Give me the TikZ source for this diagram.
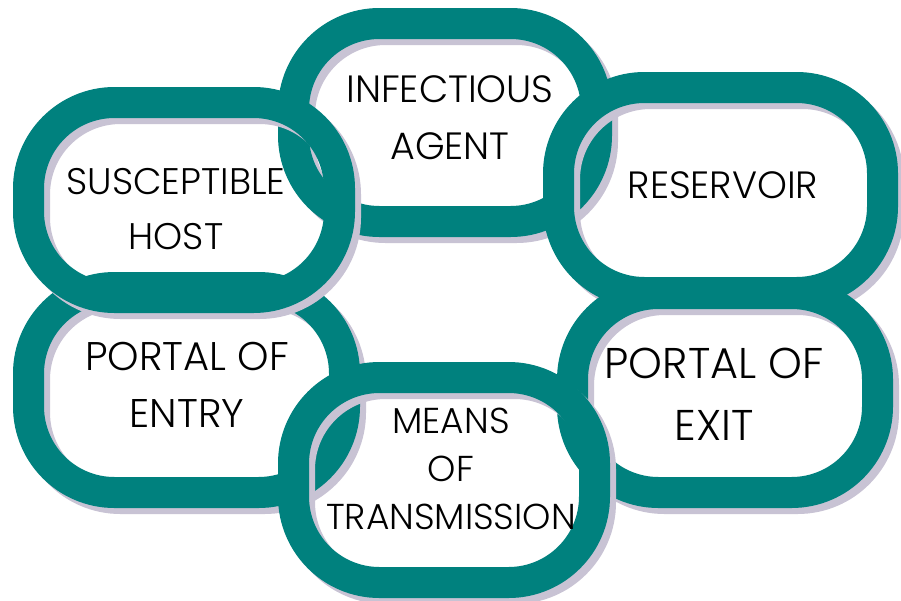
\documentclass[tikz,border=0pt]{standalone}
\usepackage{fontspec}
\setmainfont{Poppins Light}
\definecolor{ringteal}{RGB}{0,129,126}
\definecolor{ringshadow}{RGB}{200,195,212}
\tikzset{
  linkpath/.style={draw=ringteal, line width=31pt, rounded corners=86pt},
  linkshadow/.style={draw=ringshadow, line width=31pt, rounded corners=86pt},
  lab/.style={align=center, inner sep=0pt, text=black},
}
\newcommand{\chainlink}[4]{%
  \draw[linkshadow, shift={(6,6)}] (#1,#2) rectangle (#3,#4);
  \draw[linkpath] (#1,#2) rectangle (#3,#4);
}
\begin{document}
\begin{tikzpicture}[x=1pt,y=-1pt]
\useasboundingbox (0,0) rectangle (901,600);
\fill[white] (0,0) rectangle (901,600);
% links, drawn bottom to top
\chainlink{293.5}{23.5}{596.5}{221.5}   % infectious agent
\chainlink{558.5}{87.5}{882.5}{292.5}   % reservoir
\chainlink{28.5}{287.5}{344.5}{492.5}   % portal of entry
\chainlink{572.5}{293.5}{877.5}{492.5}  % portal of exit
\chainlink{28.5}{102.5}{339.5}{297.5}   % susceptible host
\chainlink{293.5}{377.5}{594.5}{582.5}  % means of transmission
% labels
\node[lab, font=\fontsize{38}{57}\selectfont] (agent) at (450,118) {INFECTIOUS\\AGENT};
\node[lab, font=\fontsize{38}{50}\selectfont] (reservoir) at (723,185.5) {RESERVOIR};
\node[lab, font=\fontsize{37}{55}\selectfont] (host) at (176,209) {SUSCEPTIBLE\\HOST};
\node[lab, font=\fontsize{40}{57}\selectfont] (entry) at (187,385) {PORTAL OF\\ENTRY};
\node[lab, font=\fontsize{43}{62}\selectfont] (exit) at (714,394) {PORTAL OF\\EXIT};
\node[lab, font=\fontsize{36}{48}\selectfont] (means) at (451,468.5) {MEANS\\OF\\TRANSMISSION};
\end{tikzpicture}
\end{document}
